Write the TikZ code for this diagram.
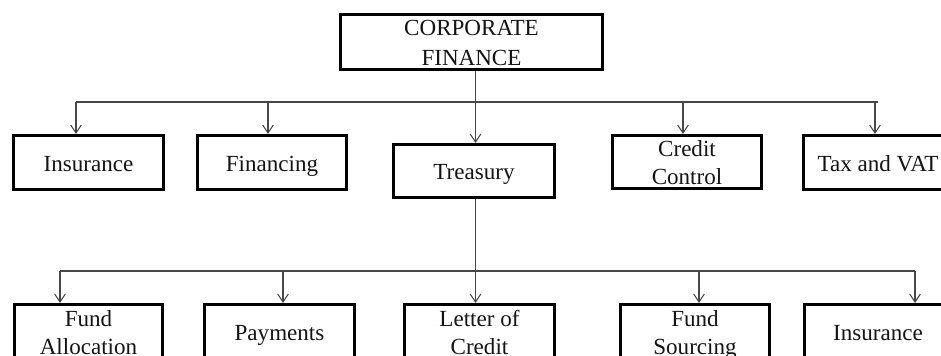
\documentclass[tikz,border=0pt]{standalone}
\usepackage{fontspec}
\setmainfont{Liberation Serif}
\usetikzlibrary{arrows.meta}
% two centred lines; the extra strut height drops the pair a little below the box centre
\newcommand\twoline[2]{\begin{tabular}{@{}c@{}}#1\\#2\end{tabular}%
  \rule{0pt}{\dimexpr\baselineskip+8.5pt\relax}}
\begin{document}
\begin{tikzpicture}[x=0.75pt,y=-0.75pt,
  box/.style={draw=black, line width=2.3pt, fill=white,
    inner xsep=0pt, inner ysep=-2pt, text=black!92,
    font=\fontsize{17.3}{21.5}\selectfont,
    % fixed line height and depth keep single-line baselines aligned
    execute at begin node={\rule{0pt}{16.8pt}},
    execute at end node={\rule[-4pt]{0pt}{4pt}}},
  pair/.style={inner ysep=-4pt},
  link/.style={draw=black!72, line width=0.8pt},
  arr/.style={link, -{Straight Barb[length=6pt,width=8pt,line width=0.8pt]}}]
\clip (0,0) rectangle (941,355);
\fill[white] (0,0) rectangle (941,355);

% top level
\node[box, pair, minimum width=196.5pt, minimum height=41.25pt,
  font=\fontsize{17.3}{22.5}\selectfont] (top) at (471.5,42)
  {\twoline{CORPORATE}{FINANCE}};

% departments
\node[box, minimum width=112.5pt, minimum height=40.5pt] (ins) at (88.5,162.5) {Insurance};
\node[box, minimum width=111.75pt, minimum height=40.5pt] (fin) at (272,162.5) {Financing};
\node[box, minimum width=120.75pt, minimum height=39.75pt] (trs) at (474,171) {Treasury};
\node[box, pair, minimum width=111.75pt, minimum height=39.75pt] (crc) at (687,162) {\twoline{Credit}{Control}};
\node[box, minimum width=111.75pt, minimum height=40.5pt] (tax) at (878,162.5) {Tax and VAT};

% treasury functions
\node[box, pair, minimum width=111pt, minimum height=41.25pt] (fal) at (88.5,332) {\twoline{Fund}{Allocation}};
\node[box, minimum width=112.5pt, minimum height=41.25pt] (pay) at (279.5,332) {Payments};
\node[box, pair, minimum width=112.5pt, minimum height=41.25pt] (loc) at (479.5,332) {\twoline{Letter of}{Credit}};
\node[box, pair, minimum width=111.75pt, minimum height=41.25pt] (fso) at (695,332) {\twoline{Fund}{Sourcing}};
\node[box, minimum width=110.25pt, minimum height=41.25pt] (ins2) at (878,332) {Insurance};

% bus and drop points, first level
\coordinate (xt) at (475.5,0);
\coordinate (a1) at (76,102);
\coordinate (a2) at (268,102);
\coordinate (a4) at (683,102);
\coordinate (a5) at (875,102);
\coordinate (b1r) at (878,102);

\draw[arr] (top.south -| xt) -- (trs.north -| xt);
\draw[link] (a1) -- (b1r);
\draw[arr] (a1) -- (a1 |- ins.north);
\draw[arr] (a2) -- (a2 |- fin.north);
\draw[arr] (a4) -- (a4 |- crc.north);
\draw[arr] (a5) -- (a5 |- tax.north);

% bus and drop points, second level
\coordinate (c1) at (60,271);
\coordinate (c2) at (283,271);
\coordinate (c4) at (699,271);
\coordinate (c5) at (915,271);

\draw[arr] (trs.south -| xt) -- (loc.north -| xt);
\draw[link] (c1) -- (c5);
\draw[arr] (c1) -- (c1 |- fal.north);
\draw[arr] (c2) -- (c2 |- pay.north);
\draw[arr] (c4) -- (c4 |- fso.north);
\draw[arr] (c5) -- (c5 |- ins2.north);
\end{tikzpicture}
\end{document}
